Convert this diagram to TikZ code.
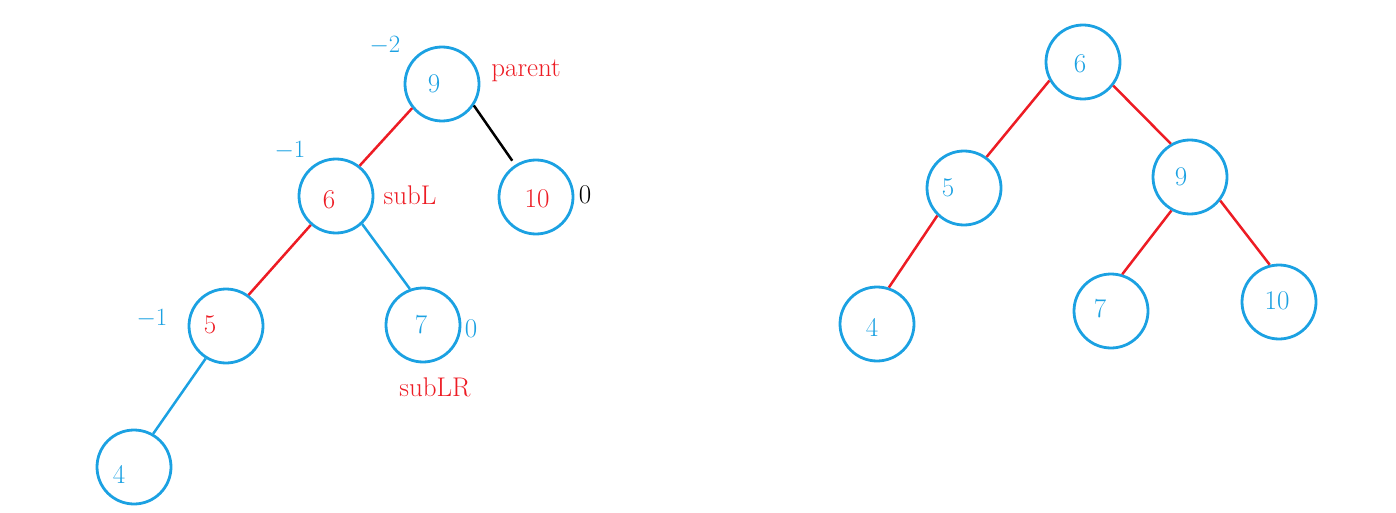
\documentclass[tikz,border=0pt]{standalone}
\usepackage{tikz}
\definecolor{cblue}{RGB}{27,161,226}
\definecolor{cred}{RGB}{237,28,36}
\begin{document}
\begin{tikzpicture}[x=1pt,y=-1pt,
  nd/.style={circle,draw=cblue,line width=2.8pt,minimum size=74pt,inner sep=0pt},
  tx/.style={font=\fontsize{27}{32}\selectfont,inner sep=0pt},
  redl/.style={draw=cred,line width=2.5pt},
  bluel/.style={draw=cblue,line width=2.5pt},
  blackl/.style={draw=black,line width=2.5pt}]
\useasboundingbox (0,0) rectangle (1396,513);
% left tree
\node[nd] (a9) at (442,84) {};
\node[nd] (a6) at (336,196) {};
\node[nd] (a10) at (536,197) {};
\node[nd] (a5) at (226,326) {};
\node[nd] (a7) at (423,325) {};
\node[nd] (a4) at (134,467) {};
\node[tx,text=cblue] (t9) at (434,84) {9};
\node[tx,text=cred] (t6) at (329,200) {6};
\node[tx,text=cred] (t10) at (537,199) {10};
\node[tx,text=cred] (t5) at (210,325) {5};
\node[tx,text=cblue] (t7) at (421,325) {7};
\node[tx,text=cblue] (t4) at (119,474) {4};
\node[tx,text=cblue] (b9) at (385,46) {$-2$};
\node[tx,text=cred] (l9) at (526,71) {parent};
\node[tx,text=cblue] (b6) at (290,151) {$-1$};
\node[tx,text=cred] (l6) at (410,195) {subL};
\node[tx,text=black] (b10) at (585,195) {0};
\node[tx,text=cblue] (b5) at (152,319) {$-1$};
\node[tx,text=cblue] (b7) at (471,329) {0};
\node[tx,text=cred] (l7) at (435,387) {subLR};
\draw[redl] (a9.219) -- (a6.52);
\draw[blackl,shorten >=5pt] (a9.326) -- (a10.123);
\draw[redl] (a6.229) -- (a5.54);
\draw[bluel] (a6.313) -- (a7.110);
\draw[bluel] (a5.238) -- (a4.60);
% right tree
\node[nd] (r6) at (1083,62) {};
\node[nd] (r5) at (964,188) {};
\node[nd] (r9) at (1190,177) {};
\node[nd] (r4) at (877,324) {};
\node[nd] (r7) at (1111,311) {};
\node[nd] (r10) at (1279,302) {};
\node[tx,text=cblue] (s6) at (1080,64) {6};
\node[tx,text=cblue] (s5) at (948,188) {5};
\node[tx,text=cblue] (s9) at (1181,177) {9};
\node[tx,text=cblue] (s4) at (872,327) {4};
\node[tx,text=cblue] (s7) at (1100,309) {7};
\node[tx,text=cblue] (s10) at (1277,301) {10};
\draw[redl] (r6.209) -- (r5.54);
\draw[redl] (r6.322) -- (r9.120);
\draw[redl] (r5.226) -- (r4.72);
\draw[redl] (r9.241) -- (r7.73);
\draw[redl] (r9.322) -- (r10.104);
\end{tikzpicture}
\end{document}
